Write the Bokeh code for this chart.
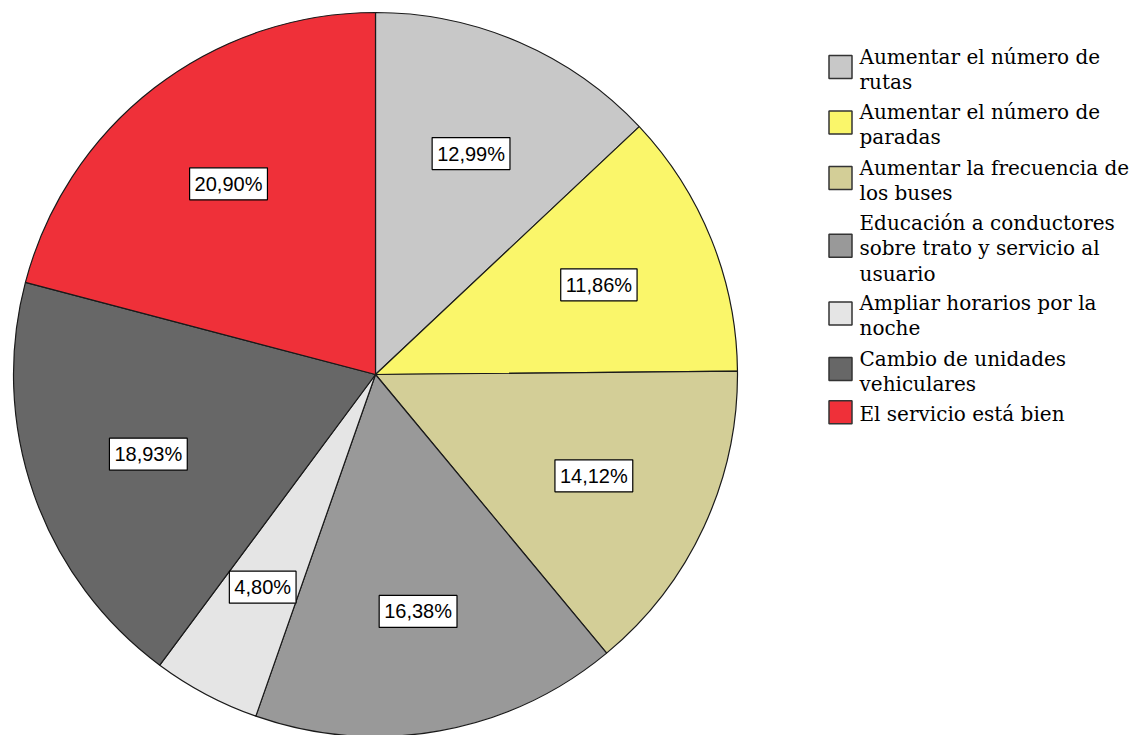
import math
from bokeh.plotting import figure
from bokeh.models import Range1d, ColumnDataSource
from bokeh.core.properties import value
from bokeh.embed import file_html
from bokeh.resources import INLINE

categories = [
    "Aumentar el número de\nrutas",
    "Aumentar el número de\nparadas",
    "Aumentar la frecuencia de\nlos buses",
    "Educación a conductores\nsobre trato y servicio al\nusuario",
    "Ampliar horarios por la\nnoche",
    "Cambio de unidades\nvehiculares",
    "El servicio está bien",
]
percents = [12.99, 11.86, 14.12, 16.38, 4.80, 18.93, 20.90]
labels = ["12,99%", "11,86%", "14,12%", "16,38%", "4,80%", "18,93%", "20,90%"]
colors = ["#c8c8c8", "#faf66a", "#d3ce97", "#999999", "#e5e5e5", "#676767", "#ef3039"]

W, H = 1142, 735
CX, CY, R = 375, H - 374, 362

total = sum(percents)
starts, ends, lx, ly = [], [], [], []
cum = 0.0
for v in percents:
    a0 = math.pi / 2 - 2 * math.pi * cum / total
    cum += v
    a1 = math.pi / 2 - 2 * math.pi * cum / total
    starts.append(a1)
    ends.append(a0)
    mid = (a0 + a1) / 2
    lx.append(CX + 0.665 * R * math.cos(mid))
    ly.append(CY + 0.665 * R * math.sin(mid))

p = figure(width=W, height=H, x_range=Range1d(0, W), y_range=Range1d(0, H),
           output_backend="svg", toolbar_location=None, min_border=0)
p.axis.visible = False
p.grid.visible = False
p.outline_line_color = None
p.background_fill_color = "white"

src = ColumnDataSource(dict(start=starts, end=ends, color=colors,
                            lx=lx, ly=ly, lab=labels))
p.wedge(x=CX, y=CY, radius=R, start_angle="start", end_angle="end",
        fill_color="color", line_color="#1a1a1a", line_width=1.2, source=src)

p.text(x="lx", y="ly", text="lab", source=src, text_align="center",
       text_baseline="middle", text_font=value("Liberation Sans"),
       text_font_size="20px", text_color="black",
       background_fill_color="white", border_line_color="black",
       border_line_width=1.2, padding=5)

# legend
fs = 20
pitch = 24.5          # desired line pitch in pixels
gap = 6.5
metric = 1.164 * fs   # DejaVu Serif ascent + descent
top = H - 44
bx, by, tx, ty, ltxt = [], [], [], [], []
for c in categories:
    n = c.count("\n") + 1
    ty.append(top)
    ltxt.append(c)
    bx.append(840)
    by.append(top - n * pitch / 2 + 2)
    top -= n * pitch + gap
lsrc = ColumnDataSource(dict(bx=bx, by=by, tx=[859] * len(ty), ty=ty, t=ltxt, color=colors))
p.rect(x="bx", y="by", width=23, height=23, fill_color="color",
       line_color="#333333", line_width=1.5, source=lsrc)
p.text(x="tx", y="ty", text="t", source=lsrc, text_align="left", text_baseline="top",
       text_font=value("DejaVu Serif"), text_font_size=f"{fs}px",
       text_line_height=pitch / metric, text_color="black")

open("out.html", "w").write(file_html(p, INLINE))
